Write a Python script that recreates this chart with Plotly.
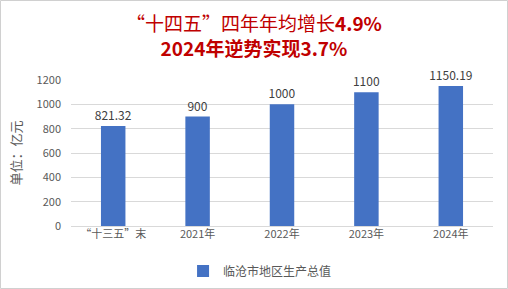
import plotly.graph_objects as go

categories = ["“十三五”末", "2021年", "2022年", "2023年", "2024年"]
values = [821.32, 900, 1000, 1100, 1150.19]
labels = ["821.32", "900", "1000", "1100", "1150.19"]
series_name = "临沧市地区生产总值"
title_line1 = "“十四五”四年年均增长"
title_line1_num = "4.9%"
title_line2 = "2024年逆势实现3.7%"
y_ticks = [0, 200, 400, 600, 800, 1000, 1200]

font_family = "Microsoft YaHei, Noto Sans CJK SC, sans-serif"
PW, PH = 422, 146  # plot area size in px
CX = (254 - 71) / PW  # canvas centre in paper coords

fig = go.Figure()
fig.add_trace(go.Bar(
    x=categories, y=values, name=series_name,
    marker=dict(color="#4472C4", line=dict(width=0)),
    width=0.29,
    text=labels, textposition="outside", constraintext="none",
    textfont=dict(color="#404040", size=12, family=font_family),
    cliponaxis=False,
))

fig.update_layout(
    width=508, height=289,
    margin=dict(l=71, r=15, t=80, b=63, autoexpand=False),
    paper_bgcolor="white", plot_bgcolor="white",
    font=dict(family=font_family, color="#595959", size=11),
    showlegend=True,
    legend=dict(
        orientation="h", x=0.448, xanchor="center", y=(226 - 271) / PH, yanchor="middle",
        font=dict(size=12, color="#595959", family=font_family),
    ),
    xaxis=dict(
        showgrid=False, showline=False, ticks="",
        tickfont=dict(size=11, color="#595959"),
    ),
    yaxis=dict(
        range=[0, 1200], tickvals=y_ticks,
        showgrid=True, gridcolor="#D9D9D9", gridwidth=1,
        zeroline=True, zerolinecolor="#D9D9D9", zerolinewidth=1,
        ticks="", ticklabelstandoff=9,
        tickfont=dict(size=11, color="#595959"),
        title=dict(text="单位：亿元", font=dict(size=13, color="#595959"), standoff=12),
    ),
)
fig.add_annotation(
    text=title_line1 + "<b>" + title_line1_num + "</b><br><b>" + title_line2 + "</b>",
    xref="paper", yref="paper",
    x=CX, y=(226 - 35) / PH, xanchor="center", yanchor="middle",
    showarrow=False, font=dict(size=19, color="#C00000", family=font_family),
)
fig.add_shape(type="rect", xref="paper", yref="paper",
              x0=-70.5 / PW, x1=1 + 14.5 / PW, y0=-62.5 / PH, y1=1 + 79.5 / PH,
              line=dict(color="#D0D0D0", width=1))

fig.write_html("out.html")
